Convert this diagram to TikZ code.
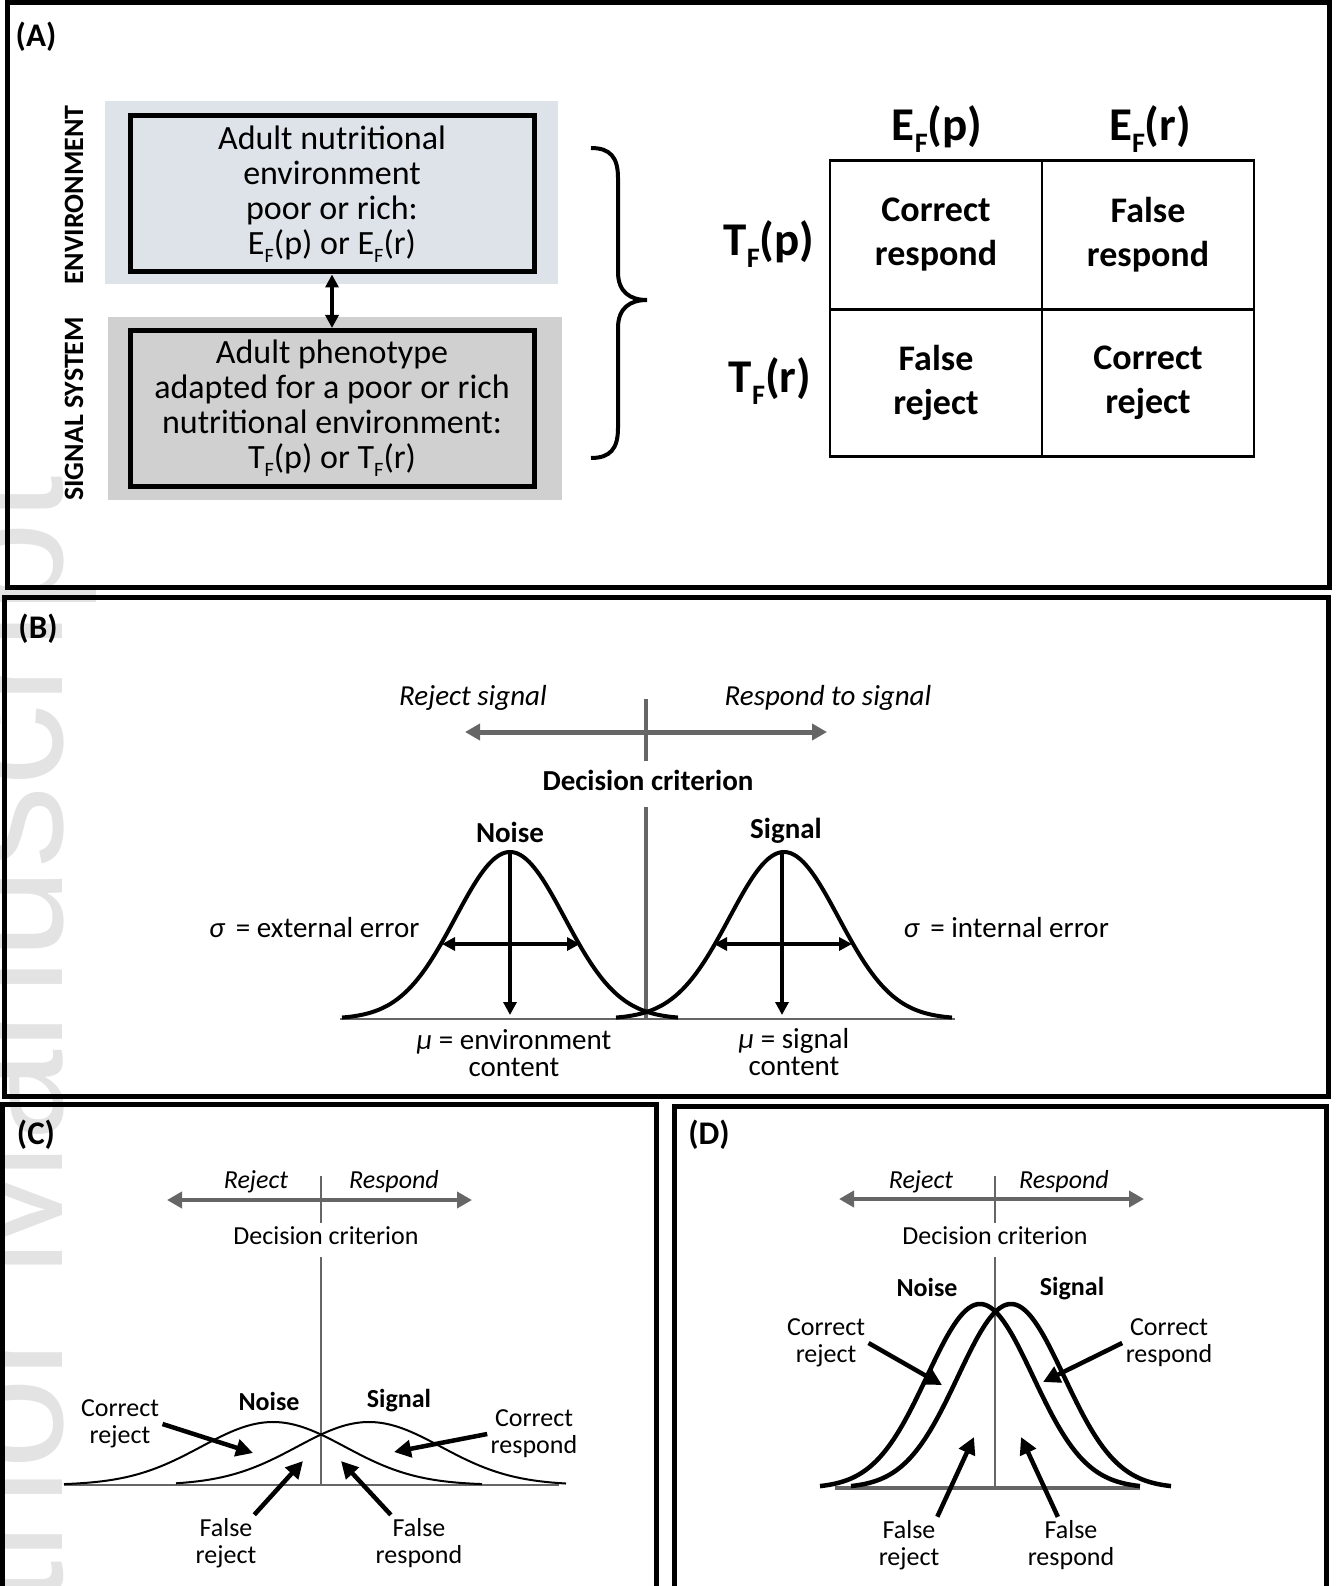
\documentclass[tikz,border=0pt]{standalone}
\usepackage{fontspec}
\setmainfont{Carlito}
\newfontfamily\markfont{Liberation Sans}
\usetikzlibrary{arrows.meta,positioning}

\definecolor{envfill}{HTML}{DEE3EA}
\definecolor{sigfill}{HTML}{D0D0D0}
\definecolor{axisgray}{HTML}{666666}
\newcommand{\subF}{\raisebox{-0.24em}{\scalebox{0.6}{F}}}

\begin{document}
\begin{tikzpicture}[x=1pt,y=-1pt,
    panelframe/.style={draw=black, line width=5pt},
    panel/.style={font=\bfseries\fontsize{33}{35}\selectfont},
    bigbox/.style={draw=black, line width=5pt, minimum width=404pt, minimum height=156pt, inner sep=0pt, align=center, font=\fontsize{34}{35}\selectfont},
    sidelab/.style={rotate=90, font=\bfseries\fontsize{28}{30}\selectfont},
    colhead/.style={font=\bfseries\fontsize{47}{49}\selectfont},
    tcell/.style={draw=black, line width=2.5pt, minimum width=212pt, minimum height=149pt, outer sep=0pt, align=center, font=\bfseries\fontsize{36}{44}\selectfont},
    lblB/.style={align=center, font=\fontsize{29}{27}\selectfont},
    lblC/.style={align=center, font=\fontsize{26}{27}\selectfont},
    decaxis/.style={draw=axisgray, line width=#1, {Triangle[length=15pt,width=16pt]}-{Triangle[length=15pt,width=16pt]}},
    crit/.style={draw=axisgray, line width=#1},
    bell/.style={draw=black, line width=#1, smooth, samples=70},
    ptr/.style={draw=black, line width=4.5pt, -{Triangle[length=17pt,width=17pt]}},
    downptr/.style={draw=black, line width=3.5pt, -{Triangle[length=13pt,width=13pt]}},
    dblptr/.style={draw=black, line width=3.5pt, {Triangle[length=13pt,width=13pt]}-{Triangle[length=13pt,width=13pt]}}
]
\useasboundingbox (0,0) rectangle (1337,1586);

    % watermark on the left edge
    \node[text=black!11, font=\markfont\fontsize{164}{164}\selectfont, rotate=90, anchor=base west, inner sep=0pt] (mark) at (62,1807) {Author Manuscript};

    % panel frames
    \draw[panelframe] (7.5,2.5) rectangle (1329,587.5);
    \draw[panelframe] (4.5,597.5) rectangle (1328,1096);
    \draw[panelframe] (2.5,1104) rectangle (656.5,1588);
    \draw[panelframe] (674.5,1106) rectangle (1326,1588);

    % ---------------- panel A ----------------
    \node[panel] (pA) at (36,37) {(A)};

    \fill[envfill] (105,101) rectangle (558,284);
    \fill[sigfill] (108,317) rectangle (562,500);

    \node[bigbox, fill=envfill] (envbox) at (332,194) {Adult nutritional\\environment\\poor or rich:\\E\subF(p) or E\subF(r)};
    \node[bigbox, fill=sigfill] (sigbox) at (332,408.5) {Adult phenotype\\adapted for a poor or rich\\nutritional environment:\\T\subF(p) or T\subF(r)};
    \draw[dblptr] (envbox.south) -- (sigbox.north);

    \node[sidelab] (envlab) at (74,195) {ENVIRONMENT};
    \node[sidelab] (siglab) at (74,409) {SIGNAL SYSTEM};

    % brace
    \draw[line width=4pt] (591,148) .. controls (610,148) and (618,157) .. (618,178) -- (618,272)
        .. controls (618,292) and (630,300) .. (647,300) .. controls (630,300) and (618,308) .. (618,328)
        -- (618,428) .. controls (618,449) and (610,458) .. (591,458);

    % outcome table
    \node[tcell] (cresp) at (936,235) {Correct\\respond};
    \node[tcell, right=0pt of cresp] (fresp) {False\\respond};
    \node[tcell, below=0pt of cresp, minimum height=147pt] (frej) {False\\reject};
    \node[tcell, right=0pt of frej, minimum height=147pt] (crej) {Correct\\reject};

    \node[colhead] (hep) at (937,129) {E\subF(p)};
    \node[colhead] (her) at (1150,129) {E\subF(r)};
    \node[colhead] (htp) at (769,244) {T\subF(p)};
    \node[colhead] (htr) at (770,381) {T\subF(r)};

    % ---------------- panel B ----------------
    \node[panel] (pB) at (38,629) {(B)};

    \draw[decaxis=5pt] (465,732) -- (827,732);
    \draw[crit=4pt] (646,699) -- (646,761);
    \node[lblB, font=\itshape\fontsize{29}{27}\selectfont] (rejB) at (473,698) {Reject signal};
    \node[lblB, font=\itshape\fontsize{29}{27}\selectfont] (respB) at (828,698) {Respond to signal};
    \node[lblB, font=\bfseries\fontsize{29}{27}\selectfont] (dcB) at (648,780) {Decision criterion};

    \draw[crit=4pt] (646,807) -- (646,1019);
    \draw[crit=2.5pt] (340,1019) -- (955,1019);

    \foreach \m/\a/\b in {510/342/678, 784/616/952}
        \draw[bell=4pt, domain=\a:\b] plot (\x, {1019-167*exp(-0.5*((\x-\m)/54.6)^2)});

    \node[lblB, font=\bfseries\fontsize{29}{27}\selectfont] (noiseB) at (510,832) {Noise};
    \node[lblB, font=\bfseries\fontsize{29}{27}\selectfont] (signalB) at (786,831) {Signal};

    \draw[downptr] (510,852) -- (510,1015);
    \draw[downptr] (782,852) -- (782,1015);
    \draw[dblptr] (442,944) -- (580,944);
    \draw[dblptr] (714,944) -- (852,944);

    \node[lblB, anchor=east] (sigN) at (423,928) {{\itshape σ}\, = external error};
    \node[lblB, anchor=west] (sigS) at (900,928) {{\itshape σ}\, = internal error};
    \node[lblB] (muN) at (514,1053) {{\itshape μ} = environment\\content};
    \node[lblB] (muS) at (794,1052) {{\itshape μ} = signal\\content};

    % ---------------- panel C ----------------
    \node[panel] (pC) at (36,1135) {(C)};

    \draw[decaxis=4pt] (167,1200) -- (472,1200);
    \draw[crit=2.5pt] (321,1176) -- (321,1223);
    \node[lblC, font=\itshape\fontsize{26}{27}\selectfont] (rejC) at (256,1182) {Reject};
    \node[lblC, font=\itshape\fontsize{26}{27}\selectfont] (respC) at (394,1182) {Respond};
    \node[lblC] (dcC) at (326,1236) {Decision criterion};

    \draw[crit=2.5pt] (321,1257) -- (321,1485);
    \draw[crit=2pt] (64,1485) -- (559,1485);

    \foreach \m/\a/\b in {273/64/482, 369/176/566}
        \draw[bell=2pt, domain=\a:\b] plot (\x, {1485-63*exp(-0.5*((\x-\m)/72)^2)});

    \node[lblC, font=\bfseries\fontsize{26}{27}\selectfont] (noiseC) at (269,1401) {Noise};
    \node[lblC, font=\bfseries\fontsize{26}{27}\selectfont] (signalC) at (399,1401) {Signal};

    \node[lblC] (crC) at (120,1424) {Correct\\reject};
    \node[lblC] (cresC) at (534,1434) {Correct\\respond};
    \node[lblC] (frC) at (226,1543) {False\\reject};
    \node[lblC] (fresC) at (419,1543) {False\\respond};

    \coordinate (crCtip) at (253,1453);
    \coordinate (cresCtip) at (394,1452);
    \coordinate (frCtip) at (303,1461);
    \coordinate (fresCtip) at (341,1461);

    \draw[ptr] (crC.east) -- (crCtip);
    \draw[ptr] (cresC.west) -- (cresCtip);
    \draw[ptr] (frC.45) -- (frCtip);
    \draw[ptr] (fresC.135) -- (fresCtip);

    % ---------------- panel D ----------------
    \node[panel] (pD) at (709,1135) {(D)};

    \draw[decaxis=4pt] (839,1199) -- (1144,1199);
    \draw[crit=2.5pt] (995,1176) -- (995,1223);
    \node[lblC, font=\itshape\fontsize{26}{27}\selectfont] (rejD) at (921,1182) {Reject};
    \node[lblC, font=\itshape\fontsize{26}{27}\selectfont] (respD) at (1064,1182) {Respond};
    \node[lblC] (dcD) at (995,1236) {Decision criterion};

    \draw[crit=2.5pt] (995,1257) -- (995,1490);
    \draw[crit=3.5pt] (835,1488) -- (1140,1488);

    \foreach \m/\a/\b in {980/820/1140, 1011/851/1171}
        \draw[bell=4.5pt, domain=\a:\b] plot (\x, {1488-184*exp(-0.5*((\x-\m)/53)^2)});

    \node[lblC, font=\bfseries\fontsize{26}{27}\selectfont] (noiseD) at (927,1287) {Noise};
    \node[lblC, font=\bfseries\fontsize{26}{27}\selectfont] (signalD) at (1072,1289) {Signal};

    \node[lblC] (crD) at (826,1343) {Correct\\reject};
    \node[lblC] (cresD) at (1169,1343) {Correct\\respond};
    \node[lblC] (frD) at (909,1545) {False\\reject};
    \node[lblC] (fresD) at (1071,1545) {False\\respond};

    \coordinate (crDtip) at (942,1385);
    \coordinate (cresDtip) at (1043,1382);
    \coordinate (frDtip) at (974,1437);
    \coordinate (fresDtip) at (1021,1437);

    \draw[ptr] (crD.east) -- (crDtip);
    \draw[ptr] (cresD.west) -- (cresDtip);
    \draw[ptr] (frD.45) -- (frDtip);
    \draw[ptr] (fresD.115) -- (fresDtip);

\end{tikzpicture}
\end{document}
